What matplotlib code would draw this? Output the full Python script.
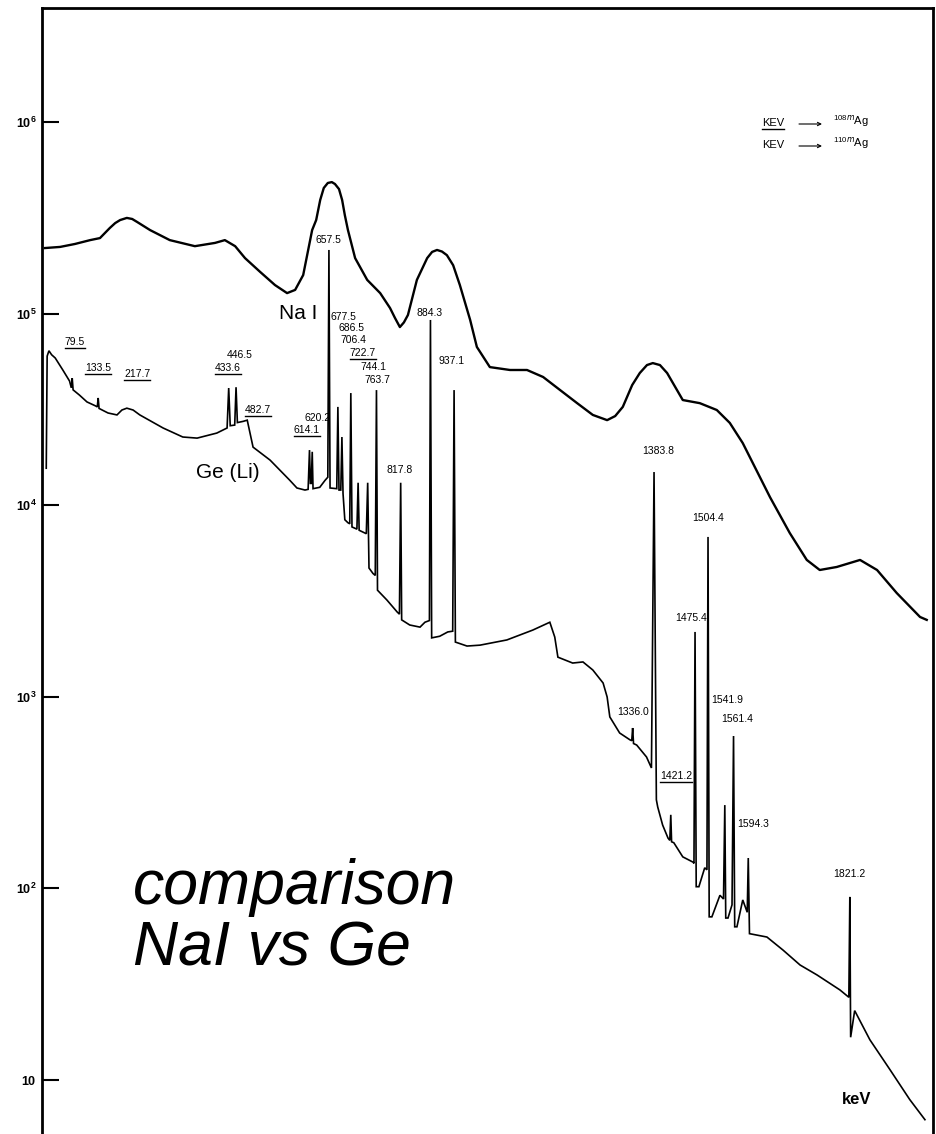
import matplotlib
matplotlib.use("Agg")
import matplotlib.pyplot as plt
from matplotlib.ticker import FixedLocator, NullLocator
from matplotlib.lines import Line2D

plt.rcParams['font.family'] = ['Liberation Sans', 'DejaVu Sans']
plt.rcParams['mathtext.fontset'] = 'custom'
plt.rcParams['mathtext.rm'] = 'Liberation Sans'
plt.rcParams['mathtext.bf'] = 'Liberation Sans:bold'

# ---------------- data (energy in keV, counts) ----------------
nai_keV = [23, 57, 90, 124, 146, 168, 180, 191, 206, 218, 229, 258, 302, 358, 403,
           425, 448, 470, 504, 537, 564, 582, 600, 620, 629, 638, 646, 655, 664, 671,
           680, 687, 693, 700, 716, 743, 772, 794, 805, 816, 825, 834, 854, 877, 888,
           899, 910, 921, 935, 950, 973, 988, 1017, 1062, 1100, 1136, 1174, 1212,
           1247, 1279, 1297, 1314, 1335, 1352, 1368, 1381, 1397, 1413, 1448, 1486,
           1524, 1553, 1582, 1643, 1687, 1725, 1754, 1792, 1844, 1882, 1926, 1978,
           1993]
nai_counts = [2.20e5, 2.23e5, 2.31e5, 2.42e5, 2.48e5, 2.80e5, 2.97e5, 3.08e5, 3.16e5,
              3.12e5, 3.01e5, 2.73e5, 2.42e5, 2.25e5, 2.34e5, 2.42e5, 2.25e5, 1.95e5,
              1.65e5, 1.41e5, 1.28e5, 1.33e5, 1.59e5, 2.73e5, 3.08e5, 3.92e5, 4.53e5,
              4.81e5, 4.86e5, 4.75e5, 4.47e5, 3.92e5, 3.27e5, 2.73e5, 1.95e5, 1.50e5,
              1.28e5, 1.07e5, 9.5e4, 8.51e4, 9.0e4, 9.84e4, 1.50e5, 1.95e5, 2.10e5,
              2.15e5, 2.11e5, 2.02e5, 1.79e5, 1.41e5, 9.27e4, 6.70e4, 5.26e4, 5.08e4,
              5.08e4, 4.67e4, 3.99e4, 3.41e4, 2.96e4, 2.78e4, 2.92e4, 3.26e4, 4.24e4,
              4.90e4, 5.39e4, 5.52e4, 5.39e4, 4.90e4, 3.54e4, 3.41e4, 3.14e4, 2.69e4,
              2.11e4, 1.10e4, 7.16e3, 5.18e3, 4.59e3, 4.76e3, 5.18e3, 4.59e3, 3.48e3,
              2.61e3, 2.52e3]

ge_keV = [26, 28, 32, 38, 46, 63, 78, 82, 84, 86, 100, 117, 136, 140, 142, 144, 164,
          184, 195, 206, 220, 235, 287, 331, 363, 407, 430, 433.6, 437, 447, 450, 453,
          466, 475, 488, 526, 570, 586, 604, 611, 614.1, 616, 618, 620.2, 622, 637,
          649, 655, 657.5, 660, 675, 677.5, 680, 684, 686.5, 689, 693, 700, 704, 706.4,
          709, 720, 722.7, 725, 741, 744.1, 747, 756, 761, 763.7, 766, 787, 810, 815,
          817.8, 820, 838, 861, 872, 882, 884.3, 887, 905, 923, 934, 937.1, 940, 966,
          995, 1055, 1113, 1151, 1162, 1169, 1202, 1225, 1247, 1270, 1279, 1285, 1307,
          1330, 1334, 1336.0, 1338, 1345, 1367, 1378, 1383.8, 1389, 1392, 1403, 1415,
          1419, 1421.2, 1423, 1428, 1448, 1471, 1473, 1475.4, 1478, 1484, 1497, 1502,
          1504.4, 1507, 1513, 1531, 1539, 1541.9, 1544, 1549, 1558, 1561.4, 1564, 1569,
          1582, 1592, 1594.3, 1597, 1636, 1672, 1710, 1748, 1799, 1819, 1821.2, 1823,
          1832, 1866, 1911, 1955, 1989]
ge_counts = [1.56e4, 6.0e4, 6.4e4, 6.1e4, 5.87e4, 5.08e4, 4.45e4, 4.1e4, 4.6e4, 4.0e4,
             3.76e4, 3.46e4, 3.3e4, 3.26e4, 3.63e4, 3.2e4, 3.03e4, 2.96e4, 3.14e4,
             3.21e4, 3.14e4, 2.96e4, 2.53e4, 2.27e4, 2.24e4, 2.38e4, 2.53e4, 4.09e4,
             2.6e4, 2.62e4, 4.13e4, 2.7e4, 2.74e4, 2.78e4, 2.01e4, 1.72e4, 1.35e4,
             1.23e4, 1.20e4, 1.21e4, 1.94e4, 1.3e4, 1.3e4, 1.90e4, 1.22e4, 1.24e4,
             1.35e4, 1.4e4, 2.15e5, 1.23e4, 1.22e4, 3.26e4, 1.2e4, 1.2e4, 2.27e4,
             1.15e4, 8.4e3, 8.1e3, 8.0e3, 3.85e4, 7.7e3, 7.5e3, 1.31e4, 7.4e3, 7.1e3,
             1.31e4, 4.7e3, 4.4e3, 4.3e3, 3.99e4, 3.6e3, 3.2e3, 2.77e3, 2.7e3, 1.31e4,
             2.52e3, 2.37e3, 2.31e3, 2.45e3, 2.5e3, 9.27e4, 2.03e3, 2.07e3, 2.18e3,
             2.2e3, 3.99e4, 1.93e3, 1.84e3, 1.86e3, 1.98e3, 2.23e3, 2.45e3, 2.05e3,
             1.61e3, 1.50e3, 1.52e3, 1.38e3, 1.18e3, 998, 785, 647, 596, 590, 687, 570,
             560, 485, 425, 1.49e4, 290, 266, 214, 183, 178, 242, 175, 173, 146, 137,
             135, 2.18e3, 102, 102, 128, 125, 6.83e3, 71, 71, 92, 88, 272, 70, 70, 82,
             624, 63, 63, 87, 75, 144, 58, 55.7, 47.6, 39.8, 35.3, 29.5, 27, 90.2, 16.7,
             23, 16.2, 11.3, 7.9, 6.2]

# peak labels: text, underlined (108mAg), label anchor (keV, counts)
peak_labels = ["79.5", "133.5", "217.7", "446.5", "433.6", "482.7", "620.2", "614.1",
               "657.5", "677.5", "686.5", "706.4", "722.7", "744.1", "763.7", "817.8",
               "884.3", "937.1", "1383.8", "1504.4", "1475.4", "1336.0", "1421.2",
               "1541.9", "1561.4", "1594.3", "1821.2"]
peak_underlined = [True, True, True, False, True, True, False, True,
                   False, False, False, False, True, False, False, False,
                   False, False, False, False, False, False, True,
                   False, False, False, False]
label_keV = [90, 142, 229, 459, 432, 499, 633, 608, 657.5, 691, 709, 711, 733, 756,
             765, 816, 883, 932, 1392, 1504, 1466, 1337, 1433, 1547, 1569, 1605, 1821]
label_counts = [7.1e4, 5.2e4, 4.84e4, 6.08e4, 5.2e4, 3.14e4, 2.85e4, 2.47e4, 2.42e5,
                9.6e4, 8.41e4, 7.28e4, 6.22e4, 5.26e4, 4.5e4, 1.53e4, 1.01e5, 5.66e4,
                1.92e4, 8.57e3, 2.58e3, 834, 386, 962, 765, 217, 119]

ytick_values = [10, 1e2, 1e3, 1e4, 1e5, 1e6]
ytick_labels = [r"$\mathbf{10}$", r"$\mathbf{10^2}$", r"$\mathbf{10^3}$",
                r"$\mathbf{10^4}$", r"$\mathbf{10^5}$", r"$\mathbf{10^6}$"]

# ---------------- figure ----------------
W, H = 936, 1134
fig = plt.figure(figsize=(W / 100, H / 100), dpi=100)
ax = fig.add_axes([42 / W, 0.0, (933 - 42) / W, 1 - 8 / H])
ax.set_yscale('log')
ax.set_xlim(16.5, 2007)
ax.set_ylim(5.22, 3.94e6)

ax.plot(nai_keV, nai_counts, color='black', lw=1.7, solid_joinstyle='round')
ax.plot(ge_keV, ge_counts, color='black', lw=1.2, solid_joinstyle='miter')

underlined_texts = []
for txt, ul, xe, yc in zip(peak_labels, peak_underlined, label_keV, label_counts):
    t = ax.text(xe, yc, txt, fontsize=7.5, ha='center', va='center')
    if ul:
        underlined_texts.append(t)

ax.text(588, 1.0e5, "Na I", fontsize=15, ha='center', va='center')
ax.text(432, 1.49e4, "Ge (Li)", fontsize=15, ha='center', va='center')

# spines / ticks
ax.spines['bottom'].set_visible(False)
for s in ('left', 'top', 'right'):
    ax.spines[s].set_linewidth(2)
ax.xaxis.set_major_locator(NullLocator())
ax.xaxis.set_minor_locator(NullLocator())
ax.yaxis.set_major_locator(FixedLocator(ytick_values))
ax.yaxis.set_minor_locator(NullLocator())
ax.set_yticklabels(ytick_labels)
ax.tick_params(axis='y', direction='in', length=12, width=1.5, labelsize=9, pad=4)

# key (top right)
def fx(x):
    return x / W

def fy(y):
    return 1 - y / H

k1 = fig.text(fx(762), fy(123), "KEV", fontsize=8, ha='left', va='center')
underlined_texts.append(k1)
fig.text(fx(762), fy(145), "KEV", fontsize=8, ha='left', va='center')
for yy in (124, 146):
    ax.annotate("", xy=(fx(822), fy(yy)), xytext=(fx(799), fy(yy)),
                xycoords='figure fraction', textcoords='figure fraction',
                arrowprops=dict(arrowstyle='->', lw=0.8, color='black',
                                shrinkA=0, shrinkB=0, mutation_scale=6))
fig.text(fx(833), fy(121), r"$^{108m}$Ag", fontsize=8, ha='left', va='center')
fig.text(fx(833), fy(143), r"$^{110m}$Ag", fontsize=8, ha='left', va='center')

fig.text(fx(857), fy(1100), "keV", fontsize=12, fontweight='bold', ha='center', va='center')

fig.text(fx(133), fy(918), "comparison\nNaI vs Ge", fontsize=45, style='italic',
         ha='left', va='center', linespacing=1.05)

# underline the 108mAg labels
fig.canvas.draw()
renderer = fig.canvas.get_renderer()
for t in underlined_texts:
    bb = t.get_window_extent(renderer)
    yline = bb.y0 - 1
    fig.add_artist(Line2D([bb.x0 / W, bb.x1 / W], [yline / H, yline / H],
                          transform=fig.transFigure, color='black', lw=1.0))

fig.savefig("out.png", dpi=100)
